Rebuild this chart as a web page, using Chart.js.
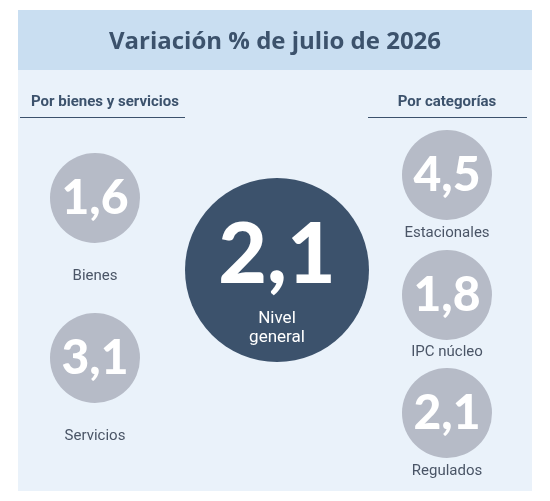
<!DOCTYPE html>
<html><head><meta charset="utf-8">
<script src="https://cdn.jsdelivr.net/npm/chart.js@4"></script>
<style>html,body{margin:0;padding:0;background:#fff}canvas{display:block}</style>
</head><body>
<canvas id="c" width="550" height="501"></canvas>
<script>
const categories = ["Bienes","Servicios","Nivel general","Estacionales","IPC núcleo","Regulados"];
const values = [1.6, 3.1, 2.1, 4.5, 1.8, 2.1];
const groupTitles = ["Por bienes y servicios","Por categorías"];
const title = "Variación % de julio de 2026";
// layout (positions in page pixels)
const layout = [
  {x:95,y:198,r:45,ly:276},
  {x:95,y:358,r:45,ly:436},
  {x:277,y:270,r:92},
  {x:447,y:175,r:45,ly:233},
  {x:447,y:295,r:45,ly:352},
  {x:447,y:413,r:45,ly:471}
];
const fmt = v => v.toFixed(1).replace('.',',');
const DARK = '#3c526c', GRAY = '#b6bbc7';
const PAD = 92; // bubble controller insets chart area by max radius

const bg = {id:'bg', beforeDraw(ch){
  const c=ch.ctx; c.save();
  c.fillStyle='#eaf2fa'; c.fillRect(18,10,514,481);
  c.fillStyle='#c9def1'; c.fillRect(18,10,514,60);
  c.fillStyle=DARK; c.font='bold 24px "Open Sans"'; c.textAlign='center'; c.textBaseline='middle';
  c.fillText(title,275,42);
  c.font='bold 15px Roboto'; c.fillText(groupTitles[0],105,102); c.fillText(groupTitles[1],447,102);
  c.strokeStyle=DARK; c.lineWidth=1.2;
  c.beginPath(); c.moveTo(20,117.5); c.lineTo(185,117.5); c.moveTo(368,117.5); c.lineTo(527,117.5); c.stroke();
  c.restore();
}};
const labels = {id:'labels', afterDatasetsDraw(ch){
  const c=ch.ctx; c.save(); c.textAlign='center'; c.textBaseline='middle';
  const meta=ch.getDatasetMeta(0);
  meta.data.forEach((p,i)=>{
    c.fillStyle='#fff';
    if(i===2){
      c.font='900 84px Lato'; c.fillText(fmt(values[i]),p.x,p.y-14);
      c.font='17px Roboto'; c.fillText('Nivel',p.x,p.y+49); c.fillText('general',p.x,p.y+68);
    } else {
      c.font='900 48px Lato'; c.fillText(fmt(values[i]),p.x,p.y+1);
      c.fillStyle='#4a5566'; c.font='15px Roboto'; c.fillText(categories[i],p.x,layout[i].ly);
    }
  });
  c.restore();
}};
new Chart(document.getElementById('c'),{
  type:'bubble',
  data:{datasets:[{
    data: layout.map((l,i)=>({x:l.x,y:l.y,r:l.r,v:values[i]})),
    backgroundColor: categories.map((_,i)=>i===2?DARK:GRAY),
    borderWidth:0, hoverRadius:0, clip:false
  }]},
  options:{responsive:false,animation:false,devicePixelRatio:1,
    layout:{padding:0},
    plugins:{legend:{display:false},tooltip:{enabled:false}},
    scales:{x:{type:'linear',min:PAD,max:550-PAD,display:false},y:{type:'linear',min:PAD,max:501-PAD,reverse:true,display:false}}
  },
  plugins:[bg,labels]
});
</script></body></html>
